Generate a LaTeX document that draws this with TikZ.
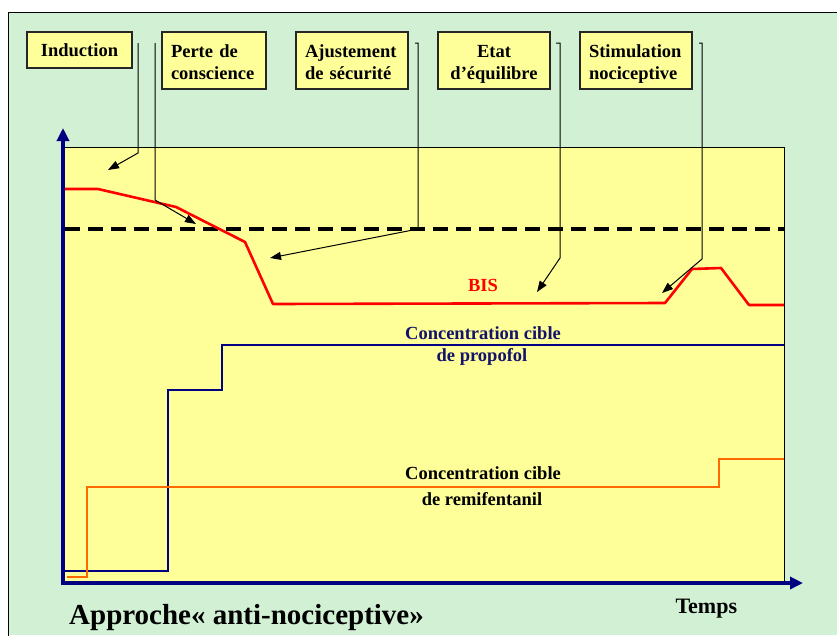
\documentclass[tikz,border=0pt]{standalone}
\usepackage{fontspec}
\setmainfont{Liberation Serif}
\usetikzlibrary{arrows.meta}

\definecolor{bggreen}{HTML}{D2F0D4}
\definecolor{plotyellow}{HTML}{FFFF99}
\definecolor{axisnavy}{HTML}{000080}
\definecolor{textnavy}{HTML}{13136B}
\definecolor{remiorange}{HTML}{FF6A00}

\begin{document}
\begin{tikzpicture}[x=1pt,y=-1pt,
  font=\bfseries\fontsize{18.5}{22}\selectfont,
  labelbox/.style={draw=black!85, line width=1.1pt, fill=plotyellow,
    inner ysep=0pt, minimum height=57, text height=13, text depth=19.5},
  leader/.style={draw=black, line width=1pt, line join=miter},
  pointer/.style={leader, -{Triangle[length=11pt,width=8pt]}},
  axis/.style={draw=axisnavy, line width=3.4pt,
    {Triangle[length=13pt,width=12pt]}-{Triangle[length=13pt,width=12pt]}},
  curve/.style={line width=2.6pt, line join=round},
  caption/.style={anchor=base}]

\useasboundingbox (0,0) rectangle (837,635);
\fill[white] (0,0) rectangle (837,635);

% slide background and frame
\fill[bggreen] (8,12) rectangle (837,635);
\draw[line width=1pt] (8,640) -- (8,12) -- (840,12);

% plot area
\fill[plotyellow] (65,147) rectangle (784,581);
\draw[line width=0.9pt] (65,147) -- (784,147) -- (784,581);

% phase labels
\node[labelbox, minimum width=105, minimum height=36, text height=12.6, text depth=0.2] (induction) at (79.5,50) {Induction};
\node[labelbox, text width=86, inner xsep=9, align=left] (perte) at (214,60.5) {Perte de\\conscience};
\node[labelbox, text width=94, inner xsep=9, align=left] (ajust) at (352,60.5) {Ajustement\\de sécurité};
\node[labelbox, text width=94, inner xsep=9, align=center] (etat) at (494,60.5) {Etat\\d’équilibre};
\node[labelbox, text width=94, inner xsep=9, align=left] (stim) at (636,60.5) {Stimulation\\nociceptive};

% leader line anchor points
\coordinate (ind-a) at (138,43);
\coordinate (ind-b) at (138,153);
\coordinate (ind-c) at (108,170);
\coordinate (per-a) at (155,43);
\coordinate (per-b) at (155,200);
\coordinate (per-c) at (196,224);
\coordinate (aju-t) at (415,43);
\coordinate (aju-a) at (418,43);
\coordinate (aju-b) at (418,229);
\coordinate (aju-c) at (270,258);
\coordinate (eta-t) at (556,43);
\coordinate (eta-a) at (560,43);
\coordinate (eta-b) at (560,258);
\coordinate (eta-c) at (537,292);
\coordinate (sti-t) at (699,43);
\coordinate (sti-a) at (702,43);
\coordinate (sti-b) at (702,259);
\coordinate (sti-c) at (662,293);

% safety threshold
\draw[line width=4pt, dash pattern=on 15pt off 8pt] (65,229) -- (784,229);

% BIS curve
\draw[curve, red] (65,189) -- (98,189) -- (176,207) -- (245,242) -- (273,304)
  -- (665,303) -- (692,269) -- (721,268) -- (749,305) -- (784,305);

% propofol target concentration
\draw[curve, axisnavy, line width=2.4pt, line join=miter] (65,571) -- (168,571) -- (168,390)
  -- (222,390) -- (222,345) -- (784,345);

% remifentanil target concentration
\draw[curve, remiorange, line join=miter] (67,577) -- (87,577) -- (87,487)
  -- (719,487) -- (719,459) -- (784,459);

% leaders
\draw[pointer] (ind-a) -- (ind-b) -- (ind-c);
\draw[pointer] (per-a) -- (per-b) -- (per-c);
\draw[pointer] (aju-t) -- (aju-a) -- (aju-b) -- (aju-c);
\draw[pointer] (eta-t) -- (eta-a) -- (eta-b) -- (eta-c);
\draw[pointer] (sti-t) -- (sti-a) -- (sti-b) -- (sti-c);

% axes
\draw[axis] (63,128) -- (63,583) -- (803,583);

% curve captions
\node[caption, text=red] (bis) at (483,291) {BIS};
\node[caption, text=textnavy] (prop1) at (483,339) {Concentration cible};
\node[caption, text=textnavy] (prop2) at (482,361.5) {de propofol};
\node[caption] (remi1) at (483,479.3) {Concentration cible};
\node[caption] (remi2) at (482,505) {de remifentanil};

\node[anchor=base west, font=\bfseries\fontsize{22}{26}\selectfont] (temps) at (672,613) {Temps};
\node[anchor=base west, inner sep=0pt, font=\bfseries\fontsize{29}{34}\selectfont] (title) at (69,624) {Approche«~anti-nociceptive»};

\end{tikzpicture}
\end{document}
